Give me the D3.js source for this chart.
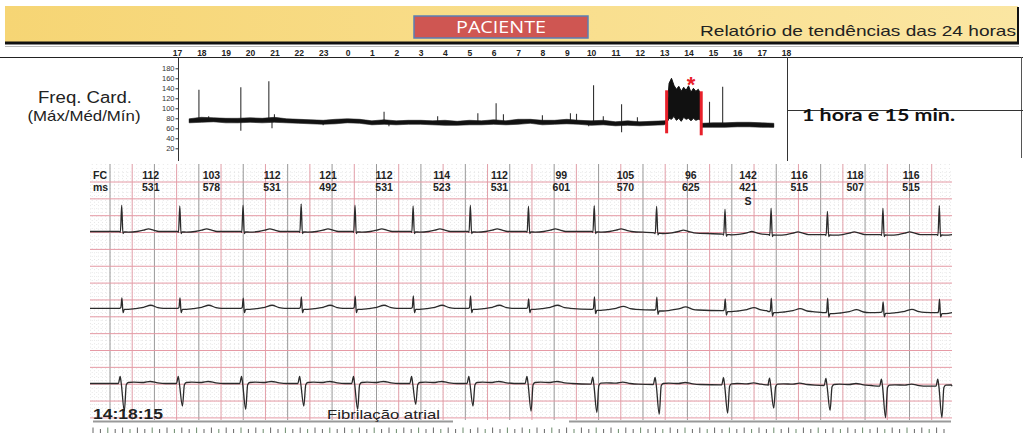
<!DOCTYPE html>
<html>
<head>
<meta charset="utf-8">
<script src="https://cdn.jsdelivr.net/npm/d3@7"></script>
<style>
  body { margin: 0; background: #fff; }
  svg { display: block; font-family: "Liberation Sans", Arial, sans-serif; }
</style>
</head>
<body>
<svg id="chart" width="1023" height="433"></svg>
<script>
// ---- 24h heart-rate trend (hours counted from 17:00) ----
const hourLabels = ["17","18","19","20","21","22","23","0","1","2","3","4","5","6","7","8","9","10","11","12","13","14","15","16","17","18"];
const hrTicks = [20, 40, 60, 80, 100, 120, 140, 160, 180];

const trendHours = [0.5,1,1.5,2,2.5,3,3.5,4,4.5,5,5.5,6,6.5,7,7.5,8,8.5,9,9.5,10,10.5,11,11.5,12,12.5,13,13.5,14,14.5,15,15.5,16,16.5,17,17.5,18,18.5,19,19.5,20,20.1,20.5,21,21.55,22,22.5,23,23.5,24,24.5];
const trendMean  = [75,76,77,76,75,76,76,77,75,74,73,72,73,75,74,71,72,71,72,72,71,71,70,71,71,72,71,73,74,72,72,73,72,71,71,69,70,69,70,71,73,null,null,66,66,66,67,67,66,65];
const trendHi    = [79,82,81,80,80,81,80,82,79,78,77,76,78,79,78,75,77,75,76,76,75,76,74,76,75,77,75,78,78,76,76,78,76,75,76,73,75,73,74,75,76,null,null,70,71,71,72,72,71,70];
const trendLo    = [71,72,73,71,71,72,71,72,71,70,69,68,69,71,70,67,68,67,68,68,67,66,66,67,67,68,67,68,70,67,68,69,68,66,67,65,66,65,66,67,70,null,null,62,62,62,63,63,62,62];

// isolated maximum / minimum excursions
const spikeHours = [0.9,1.3,2.62,3.77,4.0,8.5,10.7,12.35,13.1,13.4,15.0,16.15,16.4,17.1,17.5,18.25,18.9,21.86,22.4];
const spikeMax   = [137,84,142,154,88,93,84,90,110,88,86,90,89,146,84,108,82,113,143];
const dipHours = [2.62,3.9,6.0,8.7,16.9,18.25];
const dipMin   = [55,60,66,64,64,52];

// atrial fibrillation episode (max / min envelope)
const afHours = [20.12,20.2,20.3,20.4,20.5,20.6,20.7,20.8,20.9,21.0,21.1,21.2,21.3,21.4,21.48,21.52];
const afMax   = [96,150,160,146,138,144,134,142,136,145,132,140,134,138,130,96];
const afMin   = [72,80,78,84,76,80,74,82,78,80,75,80,76,78,77,70];

// red episode markers
const markHours  = [20.1, 21.52];
const markTop    = [136, 134];
const markBottom = [50, 46];
const starPoint  = [21.1, 157];

// ---- ECG strip ----
const fcValues = [112,103,112,121,112,114,112,99,105,96,142,116,118,116];
const rrMs     = [531,578,531,492,531,523,531,601,570,625,421,515,507,515];
const beatMark = ["","","","","","","","","","","S","","",""];

const lead1R  = [7.8,7.6,7.8,8.2,7.8,7.6,7.8,7.5,7.7,7.9,7.4,7.8,6.9,7.8,8.6];
const drift1  = [0,0,0,0,0,0,0,0,0,-0.4,-0.8,-0.9,-0.9,-0.9,-0.9];
const lead2R  = [3.1,3.1,3.0,3.4,3.6,3.7,3.7,2.8,3.7,3.8,3.5,4.0,4.3,3.1,4.0];
const drift2  = [0,0,0,0,0,0,0,0,-0.3,-0.5,-0.7,-1.0,-1.3,-1.2,-1.3];
const lead3S  = [-8.2,-6.7,-7.7,-6.7,-7.7,-6.2,-6.7,-8.2,-8.4,-8.8,-8.4,-6.8,-7.4,-9.3,-9.3];
const drift3  = [0,0,0,0,0,0,0,0,-0.2,-0.3,-0.4,-0.5,-0.6,-0.8,-0.8];

// beat templates: [ms from R peak, mm]
const lead1Template = [[-22,0],[-12,-0.25],[0,"R"],[11,-0.6],[22,-0.1],[60,-0.2],[140,0],[200,0.4],[245,0.8],[290,0.4],[340,0]];
const lead2Template = [[-20,0],[-8,0.2],[2,"R"],[12,-1.3],[24,-0.3],[60,-0.3],[120,-0.1],[200,0.3],[265,0.9],[330,0.2],[380,0]];
const lead3Template = [[-30,0],[-14,2.1],[-4,0],[24,"S"],[42,-0.4],[60,0.3],[110,0.4],[200,0.3],[260,0.6],[330,0.2],[400,0]];

const svg = d3.select("#chart");

// ---- header banner ----
const defs = svg.append("defs");
const grad = defs.append("linearGradient").attr("id", "banner").attr("x1", 0).attr("x2", 1);
grad.append("stop").attr("offset", 0).attr("stop-color", "#f6d574");
grad.append("stop").attr("offset", 1).attr("stop-color", "#fbe6a2");

svg.append("rect").attr("x", 5).attr("y", 6).attr("width", 1013).attr("height", 36).attr("fill", "url(#banner)");
svg.append("line").attr("x1", 5).attr("x2", 1019).attr("y1", 43).attr("y2", 43).attr("stroke", "#111").attr("stroke-width", 3);
svg.append("line").attr("x1", 1018).attr("x2", 1018).attr("y1", 7).attr("y2", 44).attr("stroke", "#111").attr("stroke-width", 2);
svg.append("line").attr("x1", 5).attr("x2", 1019).attr("y1", 46.5).attr("y2", 46.5).attr("stroke", "#bbb").attr("stroke-width", 1);

svg.append("rect").attr("x", 414).attr("y", 16).attr("width", 174).attr("height", 22)
    .attr("fill", "#cf5652").attr("stroke", "#5a7fb5").attr("stroke-width", 1.5);
svg.append("text").attr("x", 501).attr("y", 33).attr("text-anchor", "middle")
    .attr("font-family", "'Open Sans', sans-serif").attr("font-size", 16).attr("fill", "#fff")
    .attr("textLength", 90).attr("lengthAdjust", "spacingAndGlyphs").text("PACIENTE");
svg.append("text").attr("x", 1016).attr("y", 36).attr("text-anchor", "end")
    .attr("font-size", 15).attr("fill", "#222")
    .attr("textLength", 316).attr("lengthAdjust", "spacingAndGlyphs").text("Relatório de tendências das 24 horas");

// ---- trend chart ----
const x = d3.scaleLinear().domain([0, 25]).range([177, 786]);
const y = d3.scaleLinear().domain([0, 180]).range([158.3, 68.3]);

svg.append("line").attr("x1", 0).attr("x2", 1023).attr("y1", 57.5).attr("y2", 57.5).attr("stroke", "#222");

const xAxis = svg.append("g").attr("transform", "translate(0,57)")
    .call(d3.axisTop(x).tickValues(hourLabels.map((d, i) => i)).tickFormat((d, i) => hourLabels[i]).tickSize(0).tickPadding(1));
xAxis.select(".domain").remove();
xAxis.selectAll("text").attr("font-size", 8.5).attr("font-weight", "bold").attr("fill", "#222")
    .attr("font-family", "'Liberation Sans', Arial, sans-serif");

svg.append("line").attr("x1", 178.5).attr("x2", 178.5).attr("y1", 57).attr("y2", 161).attr("stroke", "#333");
const yAxis = svg.append("g").attr("transform", "translate(178.5,0)")
    .call(d3.axisLeft(y).tickValues(hrTicks).tickSize(3).tickPadding(1));
yAxis.select(".domain").remove();
yAxis.selectAll("text").attr("font-size", 7.5).attr("fill", "#333").attr("font-family", "'Liberation Sans', Arial, sans-serif");
yAxis.selectAll("line").attr("stroke", "#333");

svg.append("text").attr("x", 85).attr("y", 103).attr("text-anchor", "middle")
    .attr("font-size", 16).attr("fill", "#222").attr("textLength", 94).attr("lengthAdjust", "spacingAndGlyphs")
    .text("Freq. Card.");
svg.append("text").attr("x", 84).attr("y", 121).attr("text-anchor", "middle")
    .attr("font-size", 14.5).attr("fill", "#222").attr("textLength", 113).attr("lengthAdjust", "spacingAndGlyphs")
    .text("(Máx/Méd/Mín)");

// nearest mean value for a given hour
const bis = d3.bisector(d => d).center;
const meanAt = h => {
  let i = bis(trendHours, h);
  while (trendMean[i] == null) i--;
  return trendMean[i];
};

svg.append("g").selectAll("line").data(spikeHours).join("line")
    .attr("x1", d => x(d)).attr("x2", d => x(d))
    .attr("y1", d => y(meanAt(d))).attr("y2", (d, i) => y(spikeMax[i]))
    .attr("stroke", "#333").attr("stroke-width", 1.1);
svg.append("g").selectAll("line").data(dipHours).join("line")
    .attr("x1", d => x(d)).attr("x2", d => x(d))
    .attr("y1", d => y(meanAt(d))).attr("y2", (d, i) => y(dipMin[i]))
    .attr("stroke", "#333").attr("stroke-width", 1.1);

// max/min band around the mean
const band = d3.area()
    .defined((d, i) => d[1] != null)
    .x(d => x(d[0])).y0(d => y(d[2])).y1(d => y(d[1]));
svg.append("path").datum(trendHours.map((h, i) => [h, trendHi[i], trendLo[i]]))
    .attr("fill", "#1a1a1a").attr("stroke", "#1a1a1a").attr("stroke-width", 0.6).attr("d", band);

const meanLine = d3.line()
    .defined(d => d[1] != null)
    .x(d => x(d[0])).y(d => y(d[1]));
svg.append("path").datum(trendHours.map((h, i) => [h, trendMean[i]]))
    .attr("fill", "none").attr("stroke", "#111").attr("stroke-width", 3).attr("stroke-linejoin", "round")
    .attr("d", meanLine);

const afArea = d3.area().x(d => x(d[0])).y0(d => y(d[2])).y1(d => y(d[1]));
svg.append("path").datum(afHours.map((h, i) => [h, afMax[i], afMin[i]]))
    .attr("fill", "#111").attr("stroke", "#111").attr("stroke-width", 1).attr("d", afArea);

svg.append("g").selectAll("line").data(markHours).join("line")
    .attr("x1", d => x(d)).attr("x2", d => x(d))
    .attr("y1", (d, i) => y(markTop[i])).attr("y2", (d, i) => y(markBottom[i]))
    .attr("stroke", "#e8202a").attr("stroke-width", 3);
svg.append("text").attr("x", x(starPoint[0])).attr("y", y(starPoint[1]) + 12).attr("text-anchor", "middle")
    .attr("font-size", 22).attr("font-weight", "bold").attr("fill", "#e8202a").text("*");

// right-hand panel
svg.append("line").attr("x1", 787.5).attr("x2", 787.5).attr("y1", 57).attr("y2", 161).attr("stroke", "#333");
svg.append("line").attr("x1", 1021.5).attr("x2", 1021.5).attr("y1", 57).attr("y2", 158).attr("stroke", "#555");
svg.append("line").attr("x1", 787).attr("x2", 1023).attr("y1", 110.5).attr("y2", 110.5).attr("stroke", "#333");
svg.append("text").attr("x", 802).attr("y", 121).attr("font-family", "Lato, 'Open Sans', sans-serif")
    .attr("font-size", 17).attr("font-weight", "bold").attr("fill", "#111")
    .attr("textLength", 153).attr("lengthAdjust", "spacingAndGlyphs").text("1 hora e 15 min.");

// ---- ECG paper grid ----
const gridLeft = 90, gridRight = 952, gridTop = 164, gridBottom = 420;
const xGrid = d3.scaleLinear().domain([0, 37]).range([110, 931.7]);
const yGrid = d3.scaleLinear().domain([0, 14]).range([182, 182 + 14 * 16.85]);

const minorX = d3.range(-4, 37 * 5 + 5).map(k => xGrid(k / 5)).filter(v => v > gridLeft && v < gridRight);
const minorY = d3.range(-3, 14 * 5).map(k => yGrid(k / 5)).filter(v => v > gridTop && v < gridBottom);
const grid = svg.append("g");
grid.selectAll(".mx").data(minorX).join("line")
    .attr("x1", d => d).attr("x2", d => d).attr("y1", gridTop).attr("y2", gridBottom)
    .attr("stroke", "#d6d6d6").attr("stroke-width", 0.6).attr("stroke-dasharray", "1,3");
grid.selectAll(".my").data(minorY).join("line")
    .attr("x1", gridLeft).attr("x2", gridRight).attr("y1", d => d).attr("y2", d => d)
    .attr("stroke", "#d6d6d6").attr("stroke-width", 0.6).attr("stroke-dasharray", "1,3");
grid.selectAll(".vx").data(d3.range(0, 38)).join("line")
    .attr("x1", d => xGrid(d)).attr("x2", d => xGrid(d)).attr("y1", gridTop).attr("y2", gridBottom)
    .attr("stroke", d => d % 2 ? "#e3a0aa" : "#9a9a9a").attr("stroke-width", 1);
grid.selectAll(".hy").data(d3.range(0, 15)).join("line")
    .attr("x1", gridLeft).attr("x2", gridRight).attr("y1", d => yGrid(d)).attr("y2", d => yGrid(d))
    .attr("stroke", "#e59aa5").attr("stroke-width", 1);

// ---- beats ----
const beatTimes = [0, ...d3.cumsum(rrMs)];
const xMs = d3.scaleLinear().domain([0, d3.sum(rrMs)]).range([121.7, 939.3]);
const tStart = xMs.invert(gridLeft), tEnd = xMs.invert(gridRight);
const mm = 16.85 / 5;

function buildTrace(template, amps, drift) {
  const pts = [[tStart, drift[0]]];
  beatTimes.forEach((bt, i) => {
    template.forEach(([dt, v]) => {
      const val = (v === "R" || v === "S") ? amps[i] : v;
      pts.push([bt + dt, val + drift[i]]);
    });
  });
  pts.push([tEnd, drift[drift.length - 1]]);
  return pts.filter(p => p[0] >= tStart && p[0] <= tEnd);
}

const leads = [
  { base: 231.5, template: lead1Template, amps: lead1R, drift: drift1 },
  { base: 308.3, template: lead2Template, amps: lead2R, drift: drift2 },
  { base: 383.5, template: lead3Template, amps: lead3S, drift: drift3 }
];

leads.forEach(ld => {
  const yl = d3.scaleLinear().domain([0, 1]).range([ld.base, ld.base - mm]);
  const line = d3.line().x(d => xMs(d[0])).y(d => yl(d[1])).curve(d3.curveMonotoneX);
  svg.append("path").datum(buildTrace(ld.template, ld.amps, ld.drift))
      .attr("fill", "none").attr("stroke", "#2b2b2b").attr("stroke-width", 1.3)
      .attr("stroke-linejoin", "round").attr("d", line);
});

// FC / ms labels between beats
const labels = svg.append("g").attr("font-size", 10.5).attr("font-weight", "bold").attr("fill", "#222");
labels.append("text").attr("x", 93).attr("y", 178.5).text("FC");
labels.append("text").attr("x", 93).attr("y", 191).text("ms");
const mids = rrMs.map((d, i) => xMs(beatTimes[i] + d / 2));
labels.selectAll(".fc").data(fcValues).join("text")
    .attr("x", (d, i) => mids[i]).attr("y", 178.5).attr("text-anchor", "middle").text(d => d);
labels.selectAll(".ms").data(rrMs).join("text")
    .attr("x", (d, i) => mids[i]).attr("y", 191).attr("text-anchor", "middle").text(d => d);
labels.selectAll(".bm").data(beatMark).join("text")
    .attr("x", (d, i) => mids[i]).attr("y", 205).attr("text-anchor", "middle").text(d => d);

// ---- footer ----
svg.append("line").attr("x1", 93).attr("x2", 453).attr("y1", 421.5).attr("y2", 421.5).attr("stroke", "#999").attr("stroke-width", 2);
svg.append("line").attr("x1", 569).attr("x2", 951).attr("y1", 421.5).attr("y2", 421.5).attr("stroke", "#999").attr("stroke-width", 2);
svg.append("text").attr("x", 93).attr("y", 419).attr("font-size", 14).attr("font-weight", "bold").attr("fill", "#222")
    .attr("textLength", 70).attr("lengthAdjust", "spacingAndGlyphs").text("14:18:15");
svg.append("text").attr("x", 327).attr("y", 419).attr("font-size", 13).attr("fill", "#222")
    .attr("textLength", 113).attr("lengthAdjust", "spacingAndGlyphs").text("Fibrilação atrial");

const tickXs = d3.range(93, 951, 7.4);
svg.append("g").selectAll("line").data(tickXs).join("line")
    .attr("x1", d => d).attr("x2", d => d)
    .attr("y1", (d, i) => i % 2 ? 429 : 427.5).attr("y2", 434)
    .attr("stroke", (d, i) => i % 3 === 2 ? "#6a8a6a" : "#666").attr("stroke-width", 1);
</script>
</body>
</html>
